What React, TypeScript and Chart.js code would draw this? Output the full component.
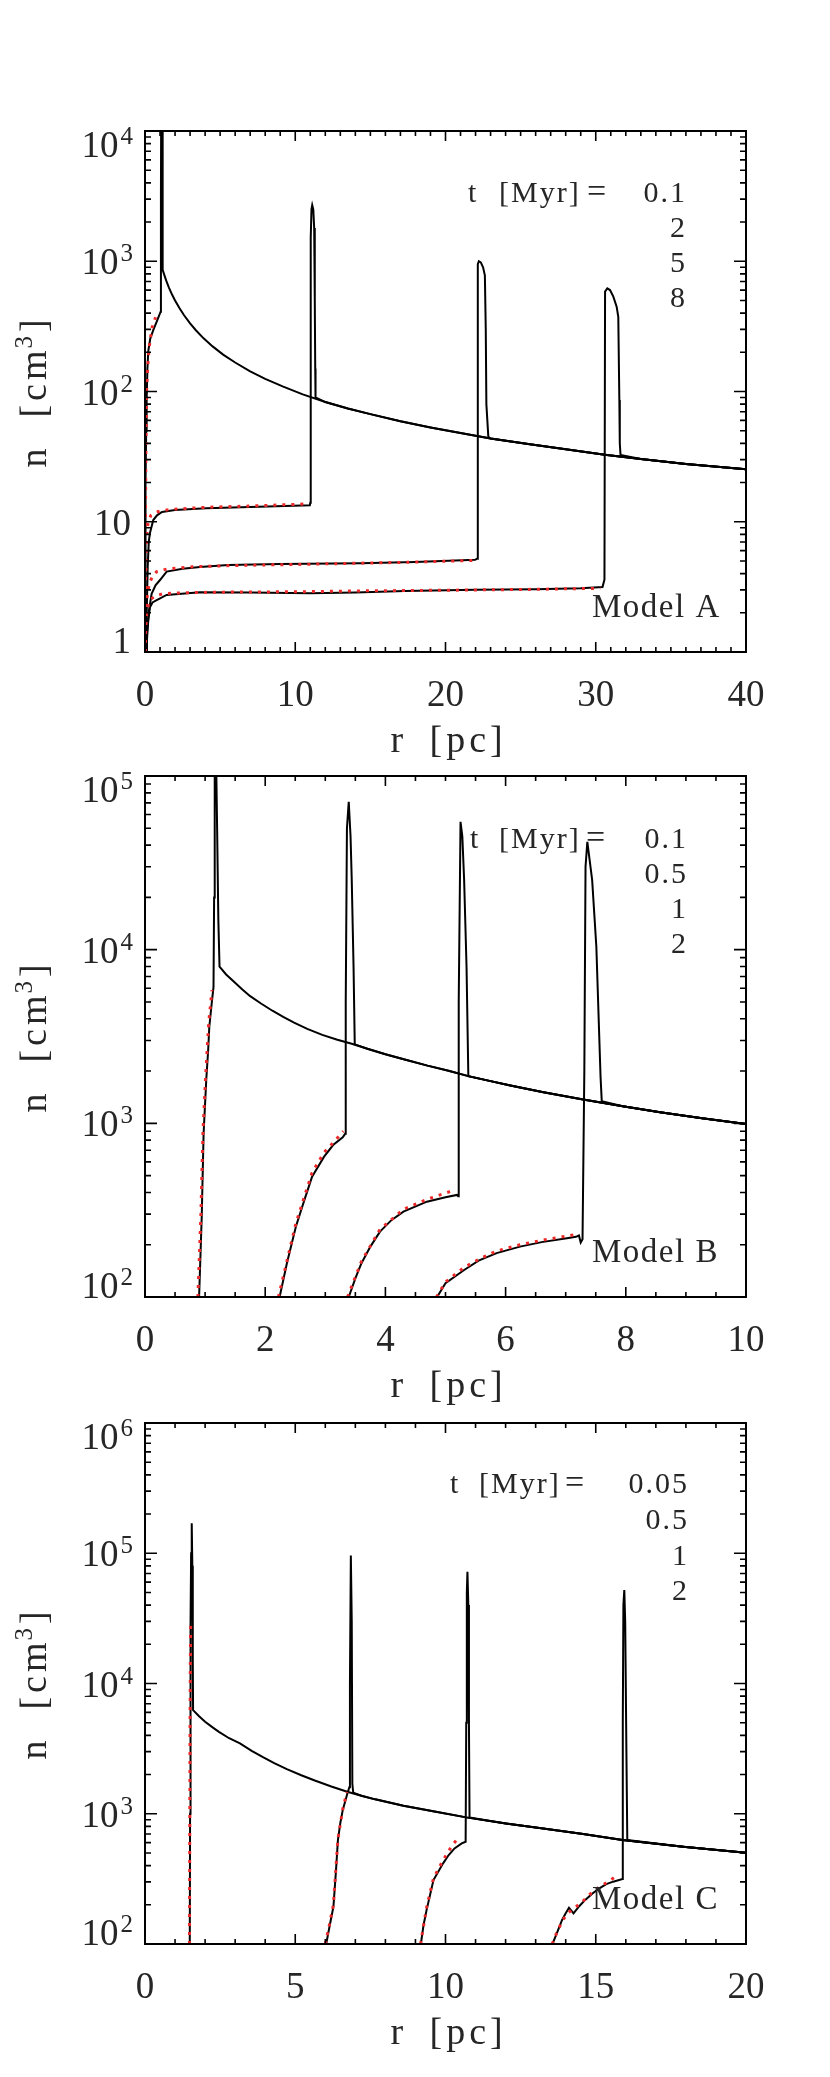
import React, { useEffect, useRef } from 'react';
import { Chart, registerables } from 'chart.js';

Chart.register(...registerables);

const FONT = '"Liberation Serif", "Times New Roman", serif';
const INK = '#262626';
const RED = 'rgb(238, 40, 40)';

// ---------------- Model A (r [pc], n [cm^-3]) ----------------
const A_xTicks = [0, 10, 20, 30, 40];
const A_yExps = [0, 1, 2, 3, 4];
const A_times = ['0.1', '2', '5', '8'];
const A_ambR = [1.18, 1.3, 1.45, 1.6, 1.8, 2.0, 2.3, 2.6, 3.0, 3.4, 3.9, 4.5, 5.2, 6.0, 7.0, 8.0, 9.2, 10.5, 12, 13.5, 15, 17, 19, 21, 23, 25.5, 28, 30.6, 33, 36, 40];
const A_ambN = [860, 775, 690, 625, 555, 500, 435, 385, 333, 294, 256, 222, 192, 167, 143, 125, 109, 95, 83, 74, 67, 59, 53, 48, 43.5, 39.5, 36, 32.7, 30.3, 27.8, 25.3];
const A_t1_r = [0, 0.02, 0.05, 0.08, 0.11, 0.16, 0.22, 0.35, 0.55, 0.78, 0.95, 1.04, 1.06, 1.08, 1.15, 1.17, 1.18];
const A_t1_n = [1, 4, 20, 50, 86, 150, 205, 255, 296, 344, 385, 410, 3000, 20000, 20000, 3000, 860];
const A_t2_r = [0, 0.04, 0.11, 0.18, 0.25, 0.33, 0.55, 0.8, 1.13, 2.0, 4.07, 7.0, 10.97, 11.0, 11.02, 11.04, 11.08, 11.13, 11.2, 11.26, 11.3, 11.33, 11.35];
const A_t2_n = [1, 1.2, 1.9, 4.5, 7, 8.2, 10.3, 11.2, 11.9, 12.3, 12.7, 13.0, 13.4, 14, 100, 1500, 2500, 2700, 2500, 1800, 500, 150, 90];
const A_t3_r = [0, 0.07, 0.13, 0.27, 0.44, 0.7, 1.0, 1.44, 2.5, 3.66, 5.54, 9, 14.34, 18, 21.97, 22.1, 22.14, 22.16, 22.22, 22.35, 22.5, 22.62, 22.68, 22.72, 22.85];
const A_t3_n = [1, 1, 1.4, 2.1, 2.8, 3.25, 3.57, 4.14, 4.35, 4.5, 4.66, 4.74, 4.8, 4.9, 5.1, 5.2, 200, 950, 1000, 980, 900, 780, 300, 80, 45];
const A_t4_r = [0, 0.07, 0.13, 0.22, 0.33, 0.5, 0.78, 1.44, 3.66, 7, 11, 14, 17.28, 22, 26, 29.0, 30.45, 30.58, 30.62, 30.77, 30.95, 31.17, 31.39, 31.5, 31.57, 31.6, 31.65];
const A_t4_n = [1, 1, 1.24, 1.76, 2.2, 2.4, 2.5, 2.74, 2.88, 2.86, 2.82, 2.86, 2.94, 3.0, 3.03, 3.08, 3.15, 3.6, 584, 620, 601, 535, 448, 375, 86, 40, 32.5];
const A_r1_r = [0, 0.02, 0.05, 0.08, 0.11, 0.18, 0.27, 0.38, 0.49, 0.6, 0.71];
const A_r1_n = [1, 6, 25, 60, 103, 155, 215, 264, 315, 345, 372];
const A_r2_r = [0, 0.03, 0.08, 0.15, 0.25, 0.4, 0.7, 1.13, 2, 4, 7, 10.8];
const A_r2_n = [1, 3, 6.5, 9, 10.3, 11.2, 11.8, 12.2, 12.5, 12.9, 13.2, 13.7];
const A_r3_r = [0, 0.04, 0.1, 0.2, 0.35, 0.55, 0.78, 1.5, 3, 6, 10, 14, 18, 21.8];
const A_r3_n = [1, 1.6, 2.4, 3.0, 3.5, 3.9, 4.14, 4.35, 4.5, 4.62, 4.7, 4.8, 4.9, 5.05];
const A_r4_r = [0, 0.03, 0.08, 0.15, 0.25, 0.4, 0.7, 1.2, 2.5, 5, 10, 15, 20, 25, 30.3];
const A_r4_n = [1, 1.3, 1.8, 2.1, 2.35, 2.55, 2.7, 2.8, 2.85, 2.88, 2.9, 2.95, 2.98, 3.02, 3.08];

// ---------------- Model B ----------------
const B_xTicks = [0, 2, 4, 6, 8, 10];
const B_yExps = [2, 3, 4, 5];
const B_times = ['0.1', '0.5', '1', '2'];
const B_ambR = [1.24, 1.35, 1.49, 1.62, 1.75, 1.93, 2.12, 2.3, 2.48, 2.7, 2.95, 3.2, 3.44, 3.7, 4.0, 4.32, 4.7, 5.05, 5.38, 5.75, 6.08, 6.63, 7.29, 7.95, 8.57, 9.27, 10];
const B_ambN = [7980, 7200, 6500, 5900, 5400, 4900, 4450, 4100, 3800, 3500, 3230, 3030, 2870, 2690, 2500, 2330, 2150, 2010, 1870, 1750, 1650, 1510, 1370, 1255, 1160, 1070, 991];
const B_t1_r = [0.9, 0.944, 0.975, 1.02, 1.05, 1.07, 1.11, 1.14, 1.15, 1.16, 1.18, 1.2, 1.22, 1.24];
const B_t1_n = [100, 290, 875, 1800, 2600, 3600, 4910, 6110, 20000, 150000, 150000, 50000, 15000, 7980];
const B_t2_r = [2.24, 2.36, 2.51, 2.65, 2.78, 2.98, 3.13, 3.29, 3.33, 3.34, 3.36, 3.39, 3.42, 3.44, 3.47, 3.49];
const B_t2_n = [100, 156, 254, 360, 493, 643, 750, 830, 870, 5000, 50000, 71000, 45000, 25200, 8000, 2850];
const B_t3_r = [3.39, 3.5, 3.6, 3.75, 3.91, 4.1, 4.3, 4.69, 5.0, 5.19, 5.21, 5.22, 5.25, 5.28, 5.31, 5.35, 5.38];
const B_t3_n = [100, 128, 156, 195, 238, 277, 310, 354, 375, 387, 380, 5000, 54500, 45000, 25200, 8000, 1870];
const B_t4_r = [4.86, 5.0, 5.31, 5.55, 5.85, 6.24, 6.6, 7.02, 7.17, 7.22, 7.25, 7.28, 7.31, 7.33, 7.36, 7.44, 7.51, 7.58, 7.6];
const B_t4_n = [100, 120, 143, 162, 179, 195, 207, 218, 222, 226, 206, 215, 2000, 30000, 41800, 25200, 10400, 1850, 1340];
const B_r1_r = [0.88, 0.93, 0.965, 1.01, 1.06, 1.115];
const B_r1_n = [100, 300, 900, 1900, 3800, 5850];
const B_r2_r = [2.22, 2.36, 2.51, 2.78, 2.98, 3.17, 3.3];
const B_r2_n = [100, 160, 265, 520, 680, 800, 900];
const B_r3_r = [3.37, 3.6, 3.91, 4.3, 4.69, 5.07, 5.15];
const B_r3_n = [100, 160, 245, 320, 365, 404, 410];
const B_r4_r = [4.85, 5.0, 5.31, 5.6, 5.85, 6.24, 6.6, 7.02, 7.13];
const B_r4_n = [100, 122, 148, 168, 184, 200, 212, 224, 228];

// ---------------- Model C ----------------
const C_xTicks = [0, 5, 10, 15, 20];
const C_yExps = [2, 3, 4, 5, 6];
const C_times = ['0.05', '0.5', '1', '2'];
const C_ambR = [1.6, 1.8, 2.0, 2.25, 2.46, 2.8, 3.16, 3.55, 3.94, 4.3, 4.72, 5.2, 5.65, 6.2, 6.73, 7.2, 7.66, 8.6, 9.68, 10.69, 12.01, 13.25, 14.58, 15.89, 17.91, 20];
const C_ambN = [6250, 5600, 5080, 4600, 4250, 3800, 3470, 3040, 2705, 2450, 2200, 1975, 1800, 1620, 1475, 1375, 1290, 1150, 1035, 938, 843, 772, 700, 628, 558, 502];
const C_t1_r = [1.49, 1.5, 1.51, 1.52, 1.535, 1.555, 1.575, 1.59, 1.6];
const C_t1_n = [100, 1000, 8000, 28000, 100000, 170000, 80000, 15000, 6250];
const C_t2_r = [6.03, 6.15, 6.27, 6.35, 6.42, 6.5, 6.58, 6.73, 6.8, 6.82, 6.85, 6.88, 6.9, 6.93];
const C_t2_n = [100, 140, 193, 350, 628, 850, 1066, 1420, 1600, 10000, 96000, 30000, 1700, 1450];
const C_t3_r = [9.18, 9.27, 9.37, 9.6, 9.92, 10.1, 10.3, 10.54, 10.67, 10.69, 10.71, 10.73, 10.76, 10.78, 10.8];
const C_t3_n = [100, 140, 182, 310, 416, 480, 542, 593, 610, 5000, 50000, 72000, 40000, 5000, 938];
const C_t4_r = [13.56, 13.7, 13.88, 14.0, 14.11, 14.26, 14.45, 14.65, 14.9, 15.12, 15.35, 15.58, 15.89, 15.9, 15.92, 15.95, 15.98, 16.02, 16.05];
const C_t4_n = [100, 120, 153, 172, 190, 172, 195, 218, 245, 267, 288, 301, 315, 5000, 40000, 52100, 30000, 3000, 628];
const C_r1_r = [1.48, 1.49, 1.5, 1.51, 1.52];
const C_r1_n = [100, 800, 5000, 15000, 28000];
const C_r2_r = [6.0, 6.15, 6.27, 6.42, 6.58, 6.72];
const C_r2_n = [100, 145, 200, 640, 1080, 1470];
const C_r3_r = [9.17, 9.37, 9.6, 9.92, 10.2, 10.43];
const C_r3_n = [100, 190, 320, 440, 560, 659];
const C_r4_r = [13.55, 13.75, 13.95, 14.1, 14.3, 14.5, 14.8, 15.1, 15.4, 15.74];
const C_r4_n = [100, 130, 158, 175, 190, 205, 240, 272, 300, 339];

type Curve = { r: number[]; n: number[] };
type Panel = {
  canvasTop: number; canvasH: number; padTop: number; padBottom: number;
  xMin: number; xMax: number; xTicks: number[]; xMinor: number;
  yExps: number[];
  ambR: number[]; ambN: number[];
  black: Curve[]; red: Curve[];
  times: string[]; model: string;
  legT: number; legBr: number; legEq: number; legVal: number; legY: number[];
};

const panels: Panel[] = [
  {
    canvasTop: 0, canvasH: 780, padTop: 131, padBottom: 128,
    xMin: 0, xMax: 40, xTicks: A_xTicks, xMinor: 1, yExps: A_yExps,
    ambR: A_ambR, ambN: A_ambN,
    black: [{ r: A_t1_r, n: A_t1_n }, { r: A_t2_r, n: A_t2_n }, { r: A_t3_r, n: A_t3_n }, { r: A_t4_r, n: A_t4_n }],
    red: [{ r: A_r1_r, n: A_r1_n }, { r: A_r2_r, n: A_r2_n }, { r: A_r3_r, n: A_r3_n }, { r: A_r4_r, n: A_r4_n }],
    times: A_times, model: 'Model A',
    legT: 468, legBr: 499, legEq: 587, legVal: 685, legY: [202, 237, 272, 307],
  },
  {
    canvasTop: 700, canvasH: 730, padTop: 76, padBottom: 133,
    xMin: 0, xMax: 10, xTicks: B_xTicks, xMinor: 0.5, yExps: B_yExps,
    ambR: B_ambR, ambN: B_ambN,
    black: [{ r: B_t1_r, n: B_t1_n }, { r: B_t2_r, n: B_t2_n }, { r: B_t3_r, n: B_t3_n }, { r: B_t4_r, n: B_t4_n }],
    red: [{ r: B_r1_r, n: B_r1_n }, { r: B_r2_r, n: B_r2_n }, { r: B_r3_r, n: B_r3_n }, { r: B_r4_r, n: B_r4_n }],
    times: B_times, model: 'Model B',
    legT: 470, legBr: 499, legEq: 586, legVal: 686, legY: [848, 883, 918, 953],
  },
  {
    canvasTop: 1380, canvasH: 697, padTop: 43, padBottom: 133,
    xMin: 0, xMax: 20, xTicks: C_xTicks, xMinor: 1, yExps: C_yExps,
    ambR: C_ambR, ambN: C_ambN,
    black: [{ r: C_t1_r, n: C_t1_n }, { r: C_t2_r, n: C_t2_n }, { r: C_t3_r, n: C_t3_n }, { r: C_t4_r, n: C_t4_n }],
    red: [{ r: C_r1_r, n: C_r1_n }, { r: C_r2_r, n: C_r2_n }, { r: C_r3_r, n: C_r3_n }, { r: C_r4_r, n: C_r4_n }],
    times: C_times, model: 'Model C',
    legT: 450, legBr: 479, legEq: 565, legVal: 687, legY: [1493, 1529, 1565, 1600],
  },
];

function withAmbient(c: Curve, ambR: number[], ambN: number[]) {
  const pts = c.r.map((x, i) => ({ x, y: c.n[i] }));
  const last = c.r[c.r.length - 1];
  ambR.forEach((x, i) => {
    if (x > last + 1e-9) pts.push({ x, y: ambN[i] });
  });
  return pts;
}

function setSpacing(ctx: CanvasRenderingContext2D, px: number) {
  (ctx as any).letterSpacing = `${px}px`;
}

function makeFrame(p: Panel) {
  return {
    id: 'idlFrame',
    afterDraw(chart: any) {
      const ctx: CanvasRenderingContext2D = chart.ctx;
      const a = chart.chartArea;
      const xs = chart.scales.x;
      const ys = chart.scales.y;
      const off = p.canvasTop;
      ctx.save();
      ctx.strokeStyle = '#000';
      ctx.lineWidth = 2;
      ctx.strokeRect(a.left, a.top, a.right - a.left, a.bottom - a.top);

      // ticks (inward on all four sides)
      ctx.lineWidth = 1.6;
      ctx.beginPath();
      const xTick = (v: number, len: number) => {
        const px = xs.getPixelForValue(v);
        ctx.moveTo(px, a.bottom);
        ctx.lineTo(px, a.bottom - len);
        ctx.moveTo(px, a.top);
        ctx.lineTo(px, a.top + len);
      };
      const yTick = (v: number, len: number) => {
        const py = ys.getPixelForValue(v);
        ctx.moveTo(a.left, py);
        ctx.lineTo(a.left + len, py);
        ctx.moveTo(a.right, py);
        ctx.lineTo(a.right - len, py);
      };
      const nMinor = Math.round((p.xMax - p.xMin) / p.xMinor);
      for (let i = 0; i <= nMinor; i++) {
        const v = p.xMin + i * p.xMinor;
        const isMajor = p.xTicks.some((t) => Math.abs(t - v) < 1e-9);
        xTick(v, isMajor ? 10 : 5);
      }
      const e0 = p.yExps[0];
      const e1 = p.yExps[p.yExps.length - 1];
      for (let e = e0; e <= e1; e++) {
        yTick(Math.pow(10, e), 12);
        if (e < e1) for (let k = 2; k <= 9; k++) yTick(k * Math.pow(10, e), 6);
      }
      ctx.stroke();

      ctx.fillStyle = INK;
      ctx.textBaseline = 'alphabetic';
      // x tick labels
      ctx.font = `37px ${FONT}`;
      ctx.textAlign = 'center';
      setSpacing(ctx, 0);
      p.xTicks.forEach((v) => {
        ctx.fillText(String(v), xs.getPixelForValue(v), a.bottom + 54);
      });

      // y tick labels
      p.yExps.forEach((e) => {
        const py = ys.getPixelForValue(Math.pow(10, e));
        let base = py + 13;
        if (base > a.bottom + 1) base = a.bottom + 1;
        if (base - 26 < a.top) base = a.top + 26;
        ctx.textAlign = 'right';
        if (e === 0 || e === 1) {
          ctx.font = `37px ${FONT}`;
          ctx.fillText(e === 0 ? '1' : '10', 131, base);
        } else {
          ctx.font = `25px ${FONT}`;
          const ew = ctx.measureText(String(e)).width;
          ctx.fillText(String(e), 133, base - 13);
          ctx.font = `37px ${FONT}`;
          ctx.fillText('10', 133 - ew - 2, base);
        }
      });

      // x axis title
      const cx = (a.left + a.right) / 2;
      ctx.textAlign = 'left';
      ctx.font = `38px ${FONT}`;
      setSpacing(ctx, 0);
      ctx.fillText('r', cx - 55, a.bottom + 100);
      setSpacing(ctx, 4);
      ctx.fillText('[pc]', cx - 16, a.bottom + 100);

      // y axis title (rotated)
      ctx.save();
      ctx.translate(46, (a.top + a.bottom) / 2);
      ctx.rotate(-Math.PI / 2);
      ctx.font = `38px ${FONT}`;
      setSpacing(ctx, 4);
      const w1 = ctx.measureText('n  [cm').width;
      const w3 = ctx.measureText(']').width;
      ctx.font = `25px ${FONT}`;
      setSpacing(ctx, 2);
      const w2 = ctx.measureText('3').width;
      let x0 = -(w1 + w2 + w3) / 2;
      ctx.font = `38px ${FONT}`;
      setSpacing(ctx, 4);
      ctx.fillText('n  [cm', x0, 0);
      x0 += w1;
      ctx.font = `25px ${FONT}`;
      setSpacing(ctx, 2);
      ctx.fillText('3', x0 - 2, -14);
      x0 += w2;
      ctx.font = `38px ${FONT}`;
      setSpacing(ctx, 4);
      ctx.fillText(']', x0, 0);
      ctx.restore();

      // legend of times
      ctx.font = `30px ${FONT}`;
      ctx.textAlign = 'left';
      setSpacing(ctx, 0);
      const ly0 = p.legY[0] - off;
      ctx.fillText('t', p.legT, ly0);
      setSpacing(ctx, 2);
      ctx.fillText('[Myr]', p.legBr, ly0);
      setSpacing(ctx, 0);
      ctx.font = `34px ${FONT}`;
      ctx.fillText('=', p.legEq, ly0);
      ctx.font = `30px ${FONT}`;
      ctx.textAlign = 'right';
      setSpacing(ctx, 2);
      p.times.forEach((t, i) => {
        ctx.fillText(t, p.legVal + 2, p.legY[i] - off);
      });

      // model label
      ctx.textAlign = 'left';
      ctx.font = `33px ${FONT}`;
      setSpacing(ctx, 1.5);
      ctx.fillText(p.model, 592, a.bottom - 35);
      setSpacing(ctx, 0);
      ctx.restore();
    },
  };
}

function PanelChart({ p }: { p: Panel }) {
  const ref = useRef<HTMLCanvasElement>(null);
  useEffect(() => {
    const canvas = ref.current;
    if (!canvas) return;
    const datasets: any[] = [];
    p.black.forEach((c) => {
      datasets.push({
        data: withAmbient(c, p.ambR, p.ambN),
        showLine: true,
        borderColor: '#000',
        borderWidth: 2,
        pointRadius: 0,
        tension: 0,
        fill: false,
        order: 2,
      });
    });
    p.red.forEach((c) => {
      datasets.push({
        data: c.r.map((x, i) => ({ x, y: c.n[i] })),
        showLine: true,
        borderColor: RED,
        borderWidth: 3,
        borderDash: [3, 6],
        pointRadius: 0,
        tension: 0,
        fill: false,
        order: 1,
      });
    });
    const e0 = p.yExps[0];
    const e1 = p.yExps[p.yExps.length - 1];
    const chart = new Chart(canvas, {
      type: 'scatter',
      data: { datasets },
      options: {
        responsive: false,
        animation: false,
        devicePixelRatio: 1,
        events: [],
        layout: { padding: { left: 145, right: 84, top: p.padTop, bottom: p.padBottom } },
        plugins: { legend: { display: false }, tooltip: { enabled: false } },
        scales: {
          x: { type: 'linear', display: false, min: p.xMin, max: p.xMax },
          y: { type: 'logarithmic', display: false, min: Math.pow(10, e0), max: Math.pow(10, e1) },
        },
      } as any,
      plugins: [makeFrame(p) as any],
    });
    return () => chart.destroy();
  }, [p]);
  return (
    <canvas
      ref={ref}
      width={830}
      height={p.canvasH}
      style={{ position: 'absolute', left: 0, top: p.canvasTop, width: 830, height: p.canvasH }}
    />
  );
}

export default function App() {
  return (
    <div style={{ position: 'absolute', left: 0, top: 0, width: 830, height: 2077, background: '#fff', overflow: 'hidden' }}>
      {panels.map((p, i) => (
        <PanelChart key={i} p={p} />
      ))}
    </div>
  );
}
